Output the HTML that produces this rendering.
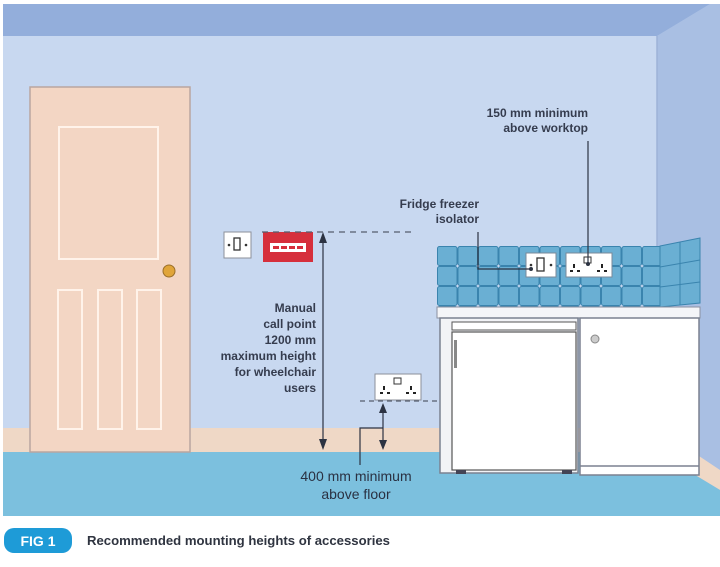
<!DOCTYPE html>
<html><head><meta charset="utf-8"><style>
body{margin:0;background:#fff}
svg{display:block}
text{font-family:"Liberation Sans",sans-serif;fill:#353c4e;font-weight:bold}
</style></head><body>
<svg width="720" height="567" viewBox="0 0 720 567" xmlns="http://www.w3.org/2000/svg">
<defs>
<pattern id="tile" x="437" y="246" width="20.5" height="20" patternUnits="userSpaceOnUse">
<rect x="0.5" y="0.5" width="19.5" height="19" rx="2" fill="#6aafd3" stroke="#3a84ae" stroke-width="1"/>
</pattern>
</defs>
<rect width="720" height="567" fill="#fff"/>
<rect x="3" y="4" width="717" height="512" fill="#c8d8f0"/>
<polygon points="657,36 710,4 720,4 720,516 657,516" fill="#a9bfe3"/>
<line x1="657" y1="36" x2="657" y2="470" stroke="#9db2d8" stroke-width="1.5"/>
<polygon points="3,4 710,4 657,36 3,36" fill="#93aedb"/>
<rect x="3" y="428" width="654" height="24" fill="#efd8c6"/>
<polygon points="657,428 720,470 720,490 657,452" fill="#efd8c6"/>
<polygon points="3,452 657,452 720,490 720,516 3,516" fill="#7cc0de"/>
<rect x="30" y="87" width="160" height="365" fill="#f3d6c4" stroke="#b9a6a0" stroke-width="1.5"/>
<rect x="59" y="127" width="99" height="132" fill="none" stroke="#fff3ea" stroke-width="2"/>
<rect x="58" y="290" width="24" height="139" fill="none" stroke="#fff3ea" stroke-width="2"/>
<rect x="98" y="290" width="24" height="139" fill="none" stroke="#fff3ea" stroke-width="2"/>
<rect x="137" y="290" width="24" height="139" fill="none" stroke="#fff3ea" stroke-width="2"/>
<circle cx="169" cy="271" r="6" fill="#e0a53a" stroke="#9a6f2a" stroke-width="1"/>
<rect x="224" y="232" width="27" height="26" fill="#fff" stroke="#8b8f9a" stroke-width="1"/>
<rect x="234" y="238" width="6" height="12" fill="none" stroke="#333" stroke-width="1.3"/>
<circle cx="229" cy="245" r="1.3" fill="#333"/><circle cx="246" cy="245" r="1.3" fill="#333"/>
<rect x="263" y="232" width="50" height="30" fill="#d62f3c"/>
<rect x="270" y="243" width="36" height="9" fill="#fff"/>
<g fill="#d62f3c"><rect x="273" y="246" width="6" height="3"/><rect x="281" y="246" width="6" height="3"/><rect x="289" y="246" width="6" height="3"/><rect x="297" y="246" width="6" height="3"/></g>
<line x1="262" y1="232" x2="412" y2="232" stroke="#555d6e" stroke-width="1.2" stroke-dasharray="6,5"/>
<line x1="323" y1="236" x2="323" y2="446" stroke="#2c3342" stroke-width="1.2"/>
<polygon points="323,232 319,243 327,243" fill="#2c3342"/>
<polygon points="323,450 319,439 327,439" fill="#2c3342"/>
<g font-size="12" text-anchor="end">
<text x="316" y="312">Manual</text>
<text x="316" y="328">call point</text>
<text x="316" y="344">1200 mm</text>
<text x="316" y="360">maximum height</text>
<text x="316" y="376">for wheelchair</text>
<text x="316" y="392">users</text>
</g>
<rect x="375" y="374" width="46" height="26" fill="#fff" stroke="#8b8f9a" stroke-width="1"/>
<rect x="394" y="378" width="7" height="6" fill="none" stroke="#333" stroke-width="1"/>
<g fill="#222"><rect x="383" y="386" width="2" height="4"/><rect x="380" y="392" width="3" height="2"/><rect x="387" y="392" width="3" height="2"/>
<rect x="410" y="386" width="2" height="4"/><rect x="406" y="392" width="3" height="2"/><rect x="413" y="392" width="3" height="2"/></g>
<line x1="360" y1="401" x2="437" y2="401" stroke="#555d6e" stroke-width="1.2" stroke-dasharray="5,4"/>
<line x1="383" y1="406" x2="383" y2="446" stroke="#2c3342" stroke-width="1.2"/>
<polygon points="383,403 379,413 387,413" fill="#2c3342"/>
<polygon points="383,450 379,440 387,440" fill="#2c3342"/>
<polyline points="383,428 360,428 360,465" fill="none" stroke="#2c3342" stroke-width="1.2"/>
<g font-size="14" text-anchor="middle">
<text x="356" y="481" style="font-weight:normal;fill:#2a3142">400 mm minimum</text>
<text x="356" y="499" style="font-weight:normal;fill:#2a3142">above floor</text>
</g>
<rect x="437" y="246" width="223" height="61" fill="url(#tile)"/>
<polygon points="660,246 700,238 700,303 660,307" fill="#6aafd3" stroke="#3a84ae"/>
<line x1="680" y1="242" x2="680" y2="305" stroke="#3a84ae"/>
<line x1="660" y1="267" x2="700" y2="260" stroke="#3a84ae"/>
<line x1="660" y1="287" x2="700" y2="282" stroke="#3a84ae"/>
<rect x="526" y="253" width="30" height="24" fill="#fff" stroke="#7a8a99"/>
<rect x="537" y="258" width="7" height="13" fill="none" stroke="#333" stroke-width="1.3"/>
<circle cx="531" cy="265" r="1.3" fill="#333"/><circle cx="551" cy="265" r="1.3" fill="#333"/>
<rect x="566" y="253" width="46" height="24" fill="#fff" stroke="#7a8a99"/>
<rect x="584" y="257" width="7" height="6" fill="none" stroke="#333" stroke-width="1"/>
<g fill="#222"><rect x="573" y="264" width="2" height="4"/><rect x="570" y="270" width="3" height="2"/><rect x="577" y="270" width="3" height="2"/>
<rect x="601" y="264" width="2" height="4"/><rect x="597" y="270" width="3" height="2"/><rect x="604" y="270" width="3" height="2"/></g>
<rect x="437" y="307" width="263" height="11" fill="#f4f5f8" stroke="#8a90a0" stroke-width="1"/>
<rect x="440" y="318" width="138" height="155" fill="#f2f3f6" stroke="#7b8190" stroke-width="1.5"/>
<rect x="452" y="322" width="124" height="8" fill="#fff" stroke="#555" stroke-width="1"/>
<rect x="452" y="332" width="124" height="138" fill="#fff" stroke="#555" stroke-width="1.2"/>
<rect x="454" y="340" width="3" height="28" fill="#888"/>
<rect x="456" y="470" width="10" height="4" fill="#445"/><rect x="562" y="470" width="10" height="4" fill="#445"/>
<rect x="580" y="318" width="119" height="157" fill="#fff" stroke="#7b8190" stroke-width="1.5"/>
<line x1="580" y1="466" x2="699" y2="466" stroke="#7b8190" stroke-width="1.5"/>
<circle cx="595" cy="339" r="4" fill="#ccc" stroke="#888"/>
<g font-size="12" text-anchor="end">
<text x="588" y="117">150 mm minimum</text>
<text x="588" y="132">above worktop</text>
<text x="479" y="208">Fridge freezer</text>
<text x="479" y="223">isolator</text>
</g>
<line x1="588" y1="141" x2="588" y2="264" stroke="#2c3342" stroke-width="1.2"/>
<circle cx="588" cy="264" r="2" fill="#2c3342"/>
<polyline points="478,232 478,269 531,269" fill="none" stroke="#2c3342" stroke-width="1.2"/>
<circle cx="531" cy="269" r="2" fill="#2c3342"/>
<rect x="4" y="528" width="68" height="25" rx="10" fill="#1e9bd7"/>
<text x="38" y="546" font-size="14" text-anchor="middle" style="fill:#fff">FIG 1</text>
<text x="87" y="545" font-size="13" textLength="303" lengthAdjust="spacingAndGlyphs" style="fill:#2f3440">Recommended mounting heights of accessories</text>
</svg>
</body></html>
